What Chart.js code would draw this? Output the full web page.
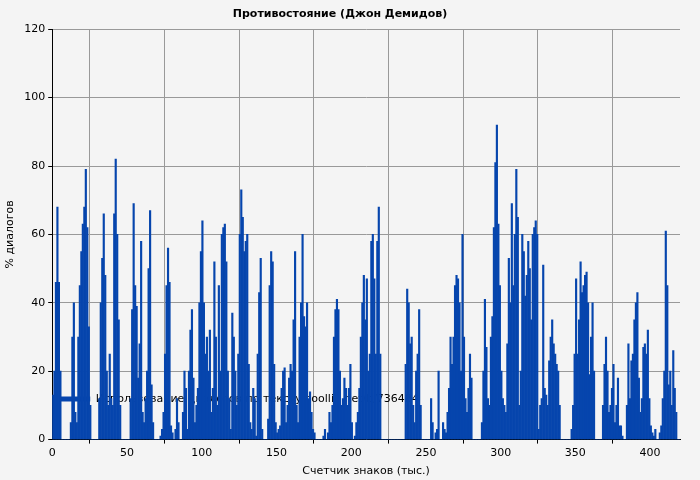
<!DOCTYPE html>
<html>
<head>
<meta charset="utf-8">
<script src="https://cdn.jsdelivr.net/npm/chart.js@4/dist/chart.umd.min.js"></script>
<style>
  html, body { margin: 0; padding: 0; background: #f4f4f4; }
</style>
</head>
<body>
<canvas id="chart" width="700" height="480"></canvas>
<script>
// % диалогов per 1000 characters
let dialogValues = [
  13,20,46,68,46,20,0,0,0,0,
  0,0,5,30,40,8,5,30,45,55,
  63,68,79,62,33,10,0,0,0,0,
  0,12,40,53,66,48,20,10,25,12,
  10,66,82,60,35,10,0,0,0,0,
  0,0,12,38,69,45,39,18,28,58,
  8,5,12,20,50,67,16,5,0,0,
  0,0,1,3,8,25,45,56,46,4,
  2,0,3,12,5,0,0,8,20,15,
  3,20,32,38,18,5,10,15,40,55,
  64,40,25,30,20,32,8,15,52,30,
  10,45,20,60,62,63,52,20,12,3,
  37,30,20,10,25,60,73,65,55,58,
  60,22,5,3,15,12,1,25,43,53,
  3,0,0,0,6,45,55,52,22,5,
  2,3,4,15,20,21,5,10,18,22,
  20,35,55,10,5,30,40,60,36,33,
  40,12,14,8,3,2,0,0,0,0,
  0,1,3,0,2,8,5,10,30,38,
  41,38,20,10,12,18,15,10,15,22,
  5,0,1,5,8,15,30,40,48,35,
  47,20,25,58,60,47,25,58,68,25,
  0,0,0,0,0,0,0,0,0,0,
  0,0,0,0,0,0,22,44,40,28,
  30,10,5,20,25,38,10,0,0,0,
  0,0,0,12,5,0,2,3,20,0,
  0,5,3,2,8,15,30,22,30,45,
  48,47,40,20,60,30,12,8,15,25,
  18,0,0,0,0,0,0,5,20,41,
  27,12,10,30,36,62,81,92,63,45,
  20,12,10,8,28,53,40,69,45,60,
  79,65,10,20,60,55,42,48,58,50,
  35,60,62,64,60,3,10,12,51,15,
  13,10,23,30,35,28,25,22,20,10,
  0,0,0,0,0,0,0,3,10,25,
  47,25,35,52,43,45,48,49,40,19,
  30,40,20,0,0,0,0,0,10,22,
  30,20,8,10,15,22,5,10,18,4,
  4,1,0,0,10,28,12,23,25,35,
  40,43,18,8,12,27,28,25,32,12,
  4,2,1,3,0,0,2,4,12,20,
  61,45,16,20,10,26,15,8,0,0
];
let xTicks = [0, 50, 100, 150, 200, 250, 300, 350, 400];
let yTicks = [0, 20, 40, 60, 80, 100, 120];

let points = dialogValues.map((v, i) => ({ x: i + 0.5, y: v }));
let font = { family: 'DejaVu Sans', size: 11 };
let grid = { color: '#999', borderDash: [2, 3], drawTicks: true, tickLength: 4, tickColor: '#000' };

new Chart(document.getElementById('chart'), {
  type: 'bar',
  data: {
    datasets: [{
      label: 'Использование диалогов по тексту coollib.net/b/736484',
      data: points,
      backgroundColor: '#0645ad',
      borderWidth: 0,
      barPercentage: 1,
      categoryPercentage: 1
    }]
  },
  options: {
    responsive: false,
    animation: false,
    devicePixelRatio: 1,
    layout: { padding: { top: 4, right: 20, left: 0, bottom: 0 } },
    plugins: {
      title: { display: true, text: 'Противостояние (Джон Демидов)', color: '#000', font: font, padding: { top: 4, bottom: 8 } },
      legend: {
        position: 'chartArea', align: 'end',
        labels: { color: '#000', font: font, boxWidth: 32, boxHeight: 5, padding: 6 }
      },
      tooltip: { enabled: false }
    },
    scales: {
      x: {
        type: 'linear', min: 0, max: 420, offset: false,
        afterBuildTicks: s => { s.ticks = xTicks.map(v => ({ value: v })); },
        ticks: { color: '#000', font: font },
        grid: grid,
        border: { color: '#000' },
        title: { display: true, text: 'Счетчик знаков (тыс.)', color: '#000', font: font, padding: 2 }
      },
      y: {
        min: 0, max: 120,
        afterBuildTicks: s => { s.ticks = yTicks.map(v => ({ value: v })); },
        ticks: { color: '#000', font: font },
        grid: grid,
        border: { color: '#000' },
        title: { display: true, text: '% диалогов', color: '#000', font: font, padding: 4 }
      }
    }
  },
  plugins: [{
    id: 'bg',
    beforeDraw: c => {
      let ctx = c.ctx;
      ctx.save();
      ctx.fillStyle = '#f4f4f4';
      ctx.fillRect(0, 0, c.width, c.height);
      ctx.restore();
    }
  }]
});
</script>
</body>
</html>
